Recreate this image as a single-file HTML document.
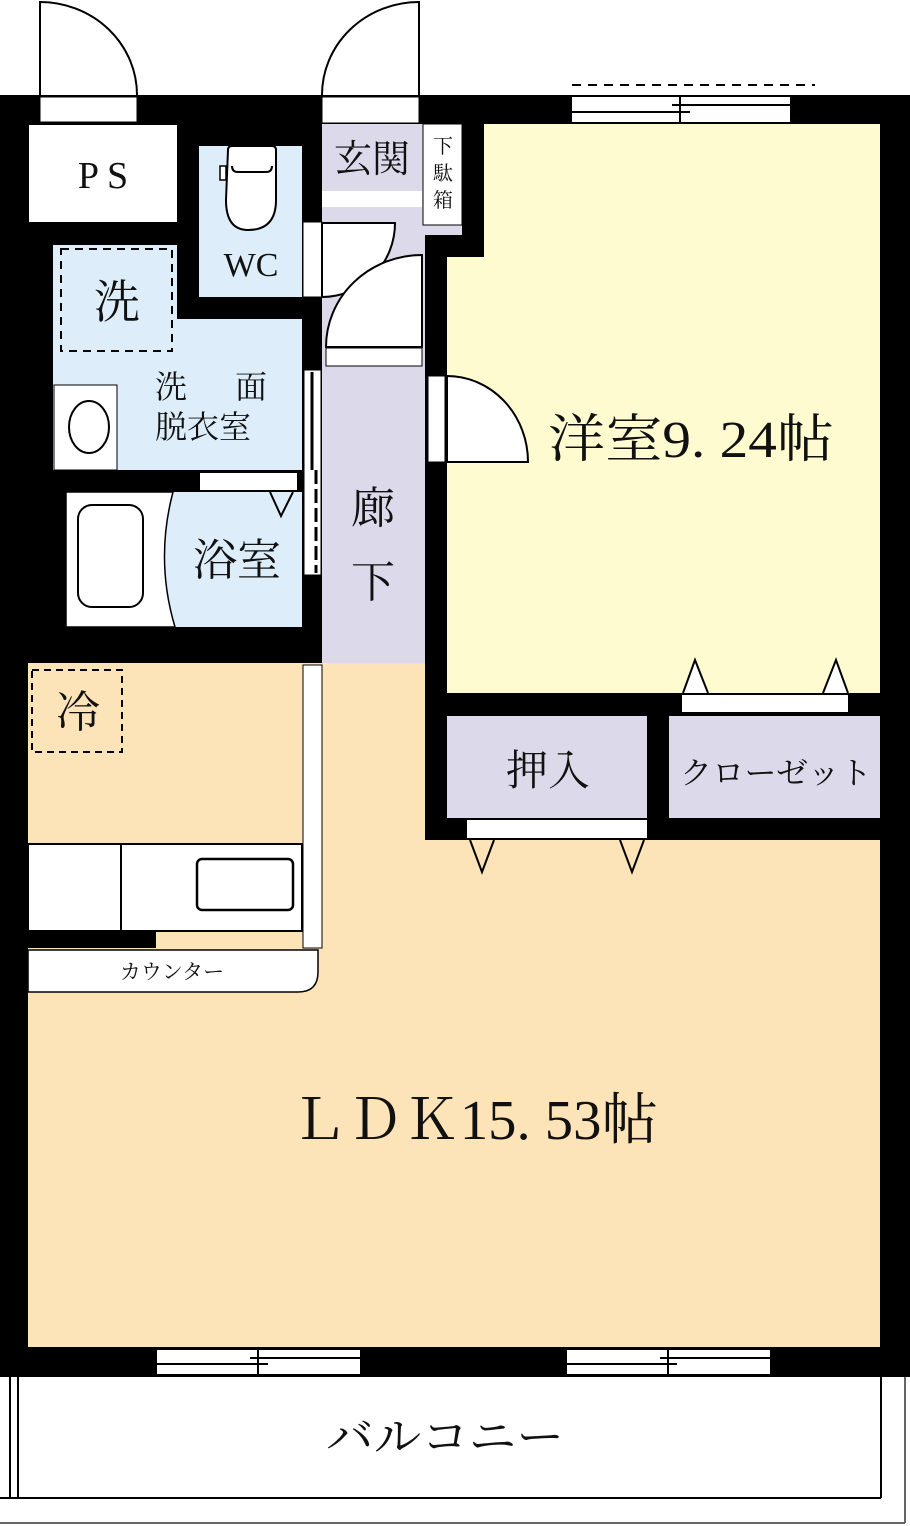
<!DOCTYPE html>
<html><head><meta charset="utf-8"><style>
html,body{margin:0;padding:0;background:#fff;}
svg{display:block;}
text{font-family:"Liberation Serif","Noto Serif CJK JP","Noto Sans CJK JP",serif;fill:#111;}
</style></head><body>
<svg width="910" height="1526" viewBox="0 0 910 1526" xmlns="http://www.w3.org/2000/svg">
<rect width="910" height="1526" fill="#fff"/>
<g fill="none" stroke="#000" stroke-width="2">
<path d="M40 95 L40 2 A97 93 0 0 1 137 95"/>
<path d="M419 95 L419 2 A97 93 0 0 0 322 95"/>
</g>
<rect x="0" y="95" width="910" height="1282" fill="#000"/>
<rect x="40" y="97" width="97" height="25" fill="#fff" stroke="#000"/>
<rect x="322" y="97" width="97" height="26" fill="#fff" stroke="#000"/>
<line x1="572" y1="85" x2="815" y2="85" stroke="#000" stroke-width="2" stroke-dasharray="9,7"/>
<rect x="572" y="97" width="218" height="25" fill="#fff"/>
<line x1="572" y1="112" x2="690" y2="112" stroke="#000" stroke-width="2"/>
<line x1="672" y1="105" x2="790" y2="105" stroke="#000" stroke-width="2"/>
<line x1="680" y1="97" x2="680" y2="122" stroke="#000" stroke-width="2"/>
<rect x="29" y="125" width="148" height="97" fill="#fff"/>
<text x="103" y="188" font-size="38" text-anchor="middle">P S</text>
<rect x="199" y="146" width="103" height="151" fill="#ddeefa"/>
<path d="M228 150 Q228 146 232 146 L272 146 Q276 146 276 150 L276 200 Q276 230 248 230 Q226 230 226 200 Z" fill="#fff" stroke="#000" stroke-width="2"/>
<path d="M232 166 Q232 172 238 172 L266 172 Q272 172 272 166" fill="none" stroke="#000" stroke-width="2"/>
<rect x="220" y="166" width="6" height="14" fill="#fff" stroke="#000" stroke-width="1.5"/>
<text x="251" y="276" font-size="34" text-anchor="middle">WC</text>
<path d="M53 245 L177 245 L177 319 L302 319 L302 470 L53 470 Z" fill="#ddeefa"/>
<rect x="61" y="249" width="111" height="102" fill="none" stroke="#000" stroke-width="2" stroke-dasharray="8,6"/>
<text x="117" y="318" font-size="46" text-anchor="middle">洗</text>
<rect x="54" y="385" width="63" height="85" fill="#fff" stroke="#000"/>
<ellipse cx="89" cy="427" rx="20" ry="26" fill="#fff" stroke="#000" stroke-width="2"/>
<text x="155" y="398" font-size="32">洗</text>
<text x="235" y="398" font-size="32">面</text>
<text x="155" y="438" font-size="32">脱衣室</text>
<rect x="200" y="473" width="97" height="17" fill="#fff"/>
<rect x="66" y="492" width="236" height="135" fill="#ddeefa"/>
<path d="M66 492 L173 492 Q155 560 175 627 L66 627 Z" fill="#fff" stroke="#000" stroke-width="1.5"/>
<rect x="78" y="505" width="65" height="102" rx="14" fill="#fff" stroke="#000" stroke-width="2"/>
<path d="M270 492 L281 516 L293 492" fill="none" stroke="#000" stroke-width="2"/>
<text x="237" y="575" font-size="44" text-anchor="middle">浴室</text>
<rect x="304" y="370" width="17" height="205" fill="#fff" stroke="#000"/>
<line x1="312" y1="372" x2="312" y2="470" stroke="#000" stroke-width="3"/>
<line x1="316" y1="470" x2="316" y2="573" stroke="#000" stroke-width="3" stroke-dasharray="14,5"/>
<path d="M322 124 L462 124 L462 235 L425 235 L425 663 L322 663 Z" fill="#dcdaea"/>
<rect x="322" y="124" width="99" height="62" fill="#dcdaea"/>
<text x="372" y="172" font-size="38" text-anchor="middle">玄関</text>
<rect x="322" y="191" width="100" height="16" fill="#fff"/>
<rect x="423" y="124" width="39" height="101" fill="#fff" stroke="#000"/>
<text x="443" y="153" font-size="20" text-anchor="middle">下</text>
<text x="443" y="180" font-size="20" text-anchor="middle">駄</text>
<text x="443" y="207" font-size="20" text-anchor="middle">箱</text>
<rect x="303" y="222" width="19" height="75" fill="#fff" stroke="#000"/>
<path d="M322 223 L395 223 A73 74 0 0 1 322 297 Z" fill="#fff" stroke="#000" stroke-width="2"/>
<rect x="326" y="348" width="96" height="18" fill="#fff" stroke="#000"/>
<path d="M422 347 L422 255 A96 92 0 0 0 326 347 Z" fill="#fff" stroke="#000" stroke-width="2"/>
<text x="373" y="523" font-size="44" text-anchor="middle">廊</text>
<text x="373" y="597" font-size="44" text-anchor="middle">下</text>
<path d="M484 124 L880 124 L880 693 L447 693 L447 257 L484 257 Z" fill="#fefbd0"/>
<rect x="428" y="376" width="17" height="86" fill="#fff" stroke="#000"/>
<path d="M447 462 L447 376 A81 86 0 0 1 528 462 Z" fill="#fff" stroke="#000" stroke-width="2"/>
<text x="548" y="457" font-size="52" textLength="286" lengthAdjust="spacingAndGlyphs">洋室9. 24帖</text>
<rect x="682" y="695" width="166" height="17" fill="#fff"/>
<path d="M683 693 L695 660 L708 693 M823 693 L836 660 L848 693" fill="#fff" stroke="#000" stroke-width="2"/>
<rect x="447" y="716" width="200" height="102" fill="#dcdaea"/>
<rect x="669" y="716" width="211" height="102" fill="#dcdaea"/>
<text x="548" y="785" font-size="42" text-anchor="middle">押入</text>
<text x="680" y="784" font-size="31" textLength="192" lengthAdjust="spacingAndGlyphs">クローゼット</text>
<path d="M28 663 L425 663 L425 840 L880 840 L880 1347 L28 1347 Z" fill="#fde3b8"/>
<rect x="467" y="820" width="180" height="18" fill="#fff"/>
<path d="M470 840 L482 872 L494 840 M620 840 L632 872 L644 840" fill="#fde3b8" stroke="#000" stroke-width="2"/>
<rect x="32" y="670" width="90" height="82" fill="none" stroke="#000" stroke-width="2" stroke-dasharray="7,5"/>
<text x="78" y="727" font-size="44" text-anchor="middle">冷</text>
<rect x="303" y="665" width="19" height="283" fill="#fff" stroke="#000"/>
<rect x="28" y="844" width="274" height="87" fill="#fff" stroke="#000" stroke-width="2"/>
<line x1="121" y1="844" x2="121" y2="931" stroke="#000" stroke-width="2"/>
<rect x="197" y="859" width="96" height="51" rx="5" fill="#fff" stroke="#000" stroke-width="2.5"/>
<rect x="28" y="931" width="128" height="17" fill="#000"/>
<path d="M28 950 L318 950 L318 972 Q318 992 298 992 L28 992 Z" fill="#fff" stroke="#000" stroke-width="1.5"/>
<text x="172" y="979" font-size="21" text-anchor="middle">カウンター</text>
<text x="290" y="1139" font-size="56" textLength="368" lengthAdjust="spacingAndGlyphs">ＬＤＫ15. 53帖</text>
<g>
<rect x="157" y="1350" width="203" height="24" fill="#fff"/>
<line x1="157" y1="1364" x2="268" y2="1364" stroke="#000" stroke-width="2"/>
<line x1="250" y1="1358" x2="360" y2="1358" stroke="#000" stroke-width="2"/>
<line x1="258" y1="1350" x2="258" y2="1374" stroke="#000" stroke-width="2"/>
<rect x="567" y="1350" width="203" height="24" fill="#fff"/>
<line x1="567" y1="1364" x2="677" y2="1364" stroke="#000" stroke-width="2"/>
<line x1="660" y1="1358" x2="770" y2="1358" stroke="#000" stroke-width="2"/>
<line x1="668" y1="1350" x2="668" y2="1374" stroke="#000" stroke-width="2"/>
</g>
<g stroke="#000" stroke-width="2" fill="none">
<line x1="10" y1="1377" x2="10" y2="1498"/>
<line x1="18" y1="1377" x2="18" y2="1498"/>
<line x1="881" y1="1377" x2="881" y2="1498"/>
<line x1="0" y1="1498" x2="881" y2="1498"/>
<line x1="0" y1="1523" x2="905" y2="1523" stroke="#666"/>
<line x1="905" y1="1377" x2="905" y2="1523" stroke="#666"/>
</g>
<text x="326" y="1452" font-size="44" textLength="238" lengthAdjust="spacingAndGlyphs">バルコニー</text>
</svg>
</body></html>
